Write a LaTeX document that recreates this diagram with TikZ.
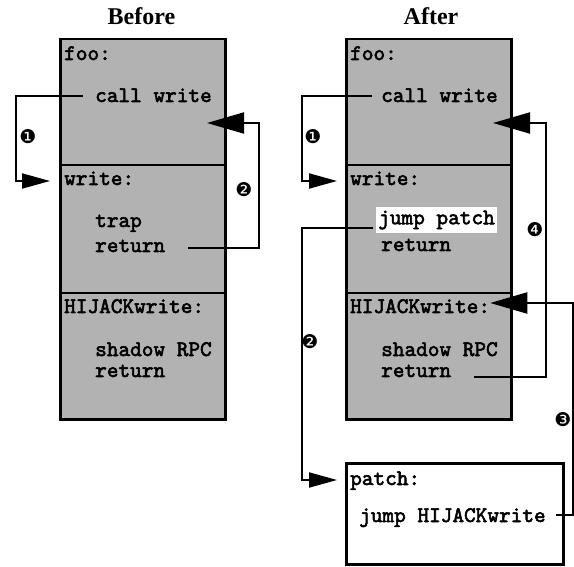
\documentclass[tikz,border=0pt]{standalone}
\usepackage{fontspec}
\setmainfont{Liberation Serif}
\newfontfamily\dvfont{DejaVu Sans}
\newfontfamily\codefont{lmmono10-regular.otf}[FakeBold=2.5]
\usetikzlibrary{arrows.meta}
\definecolor{boxgray}{gray}{0.70}
\begin{document}
\begin{tikzpicture}[x=1pt,y=-1pt,
  sect/.style={draw, line width=2.5pt, fill=boxgray, anchor=north west, minimum width=165pt, inner sep=0pt},
  pbox/.style={draw, line width=2.5pt, fill=white, anchor=north west, inner sep=0pt},
  code/.style={anchor=base west, inner sep=0pt, font=\codefont\fontsize{22.2}{24}\selectfont},
  hl/.style={fill=white, inner xsep=2.5pt, inner ysep=4pt, font=\codefont\fontsize{22.2}{24}\selectfont},
  title/.style={anchor=base, inner sep=0pt, font=\rmfamily\bfseries\fontsize{24}{28}\selectfont},
  num/.style={inner sep=0pt, font=\dvfont\fontsize{19}{22}\selectfont},
  conn/.style={line width=2pt},
  tipS/.style={-{Triangle[length=28pt,width=15pt]}},
  tipL/.style={-{Triangle[length=37pt,width=21pt]}},
]
\useasboundingbox (0,0) rectangle (574,567);

% titles
\node[title] (tb) at (141.5,25) {Before};
\node[title] (ta) at (431,25) {After};

% ---------- Before ----------
\node[sect, minimum height=126pt] (foo1) at (59,38) {};
\node[sect, minimum height=128pt] (wsec1) at (59,164) {};
\node[sect, minimum height=126pt] (hsec1) at (59,292) {};

\node[code] (fl1) at (64,60) {foo:};
\node[code] (cw1) at (95,102) {call write};
\node[code] (wl1) at (64,185) {write:};
\node[code] (tr1) at (95,227) {trap};
\node[code] (r1) at (95,252) {return};
\node[code] (hl1) at (64,313) {HIJACKwrite:};
\node[code] (sr1) at (95,356) {shadow RPC};
\node[code] (r2) at (95,377) {return};

\coordinate (t2) at (207,123);
\draw[conn,tipS] ([shift={(-12,-6)}]cw1.base west) -- ++(-67,0) |- ([shift={(-14,-4)}]wl1.base west);
\draw[conn,tipL] ([shift={(23,-4)}]r1.base east) -- (259,248) |- (t2);
\node[num] (n1a) at (28,137) {❶};
\node[num] (n2a) at (244,190) {❷};

% ---------- After ----------
\node[sect, minimum height=126pt] (foo2) at (345,38) {};
\node[sect, minimum height=128pt] (wsec2) at (345,164) {};
\node[sect, minimum height=126pt] (hsec2) at (345,292) {};
\node[pbox, minimum width=217pt, minimum height=101pt] (pbox) at (345,462) {};

\node[code] (fl2) at (350,60) {foo:};
\node[code] (cw2) at (381,102) {call write};
\node[code] (wl2) at (350,185) {write:};
\node[hl] (jp) at (436.5,220) {jump patch};
\node[code] (r3) at (381,251) {return};
\node[code] (hl2) at (350,313) {HIJACKwrite:};
\node[code] (sr2) at (381,356) {shadow RPC};
\node[code] (r4) at (381,377) {return};
\node[code] (pl) at (350,485) {patch:};
\node[code] (jh) at (359,522) {jump HIJACKwrite};

\coordinate (t4) at (493,123);
\draw[conn,tipS] ([shift={(-9,-6)}]cw2.base west) -- ++(-70,0) |- ([shift={(-13,-4)}]wl2.base west);
\draw[conn,tipS] ([shift={(-3,8)}]jp.west) -- ++(-71,0) |- ([shift={(-13,-5)}]pl.base west);
\draw[conn,tipL] ([shift={(10,-7)}]jh.base east) -- (573,515) |- ([shift={(0,-10)}]hl2.base east);
\draw[conn,tipL] ([shift={(23,0)}]r4.base east) -- (546,377) |- (t4);

\node[num] (n1b) at (313,137) {❶};
\node[num] (n2b) at (310,342) {❷};
\node[num] (n4) at (535,230) {❹};
\node[num] (n3) at (563,420) {❸};
\end{tikzpicture}
\end{document}
